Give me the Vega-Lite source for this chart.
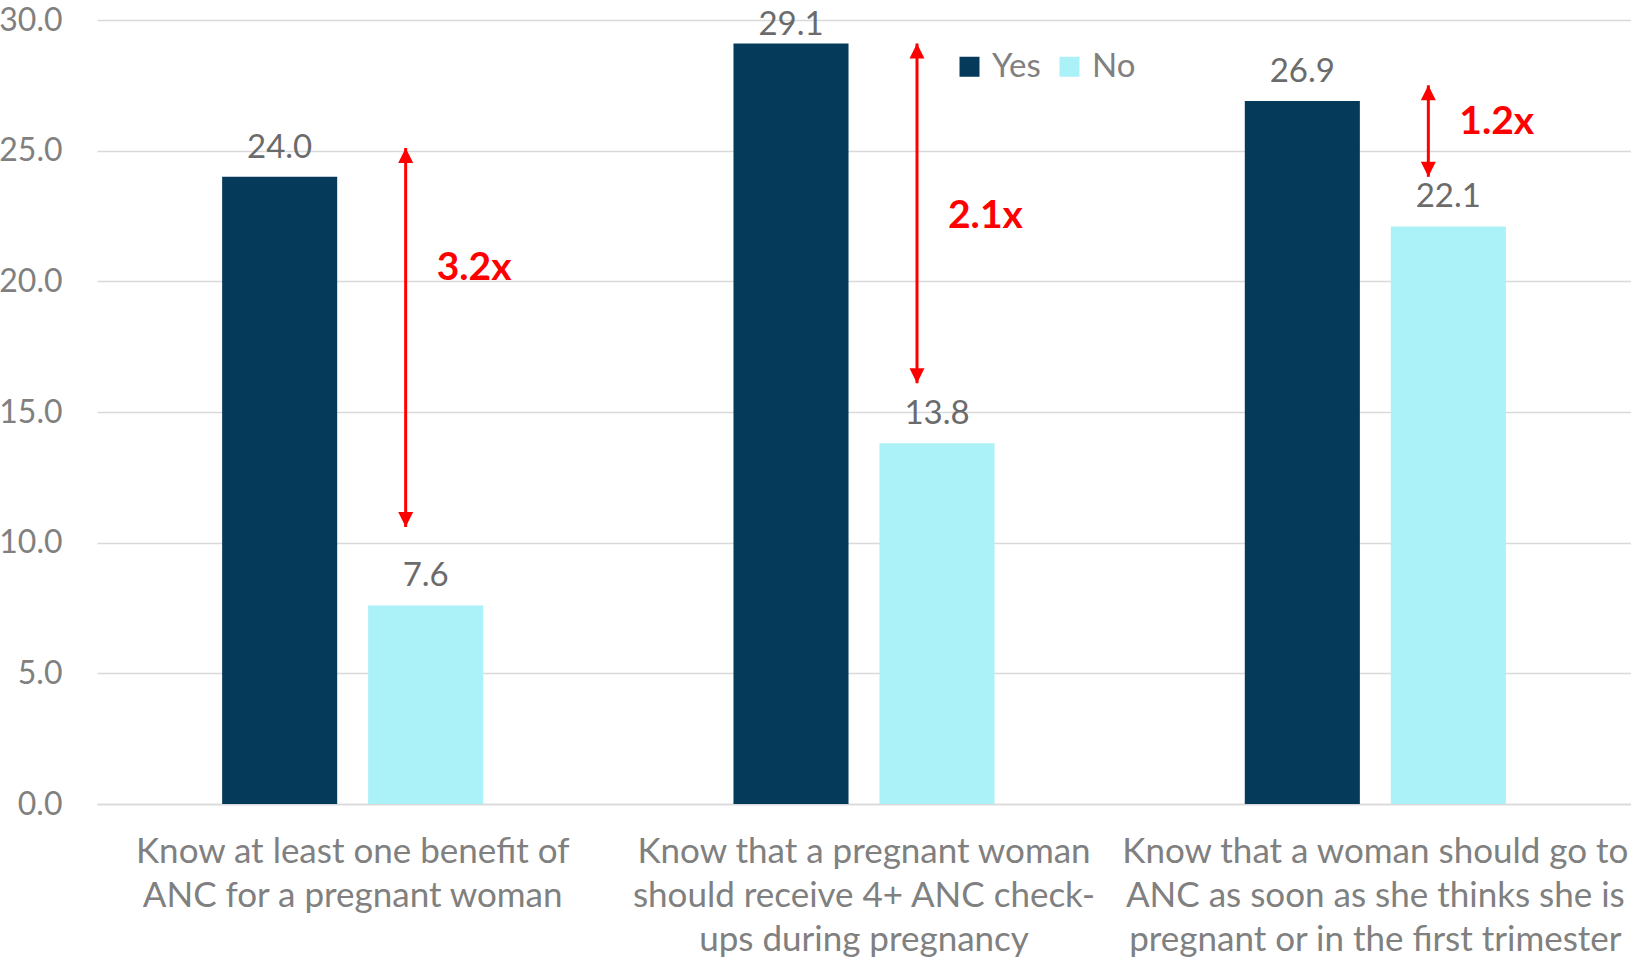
{
  "$schema": "https://vega.github.io/schema/vega-lite/v6.json",
  "width": 1534,
  "height": 784,
  "autosize": {"type": "none"},
  "padding": {"left": 97, "top": 20, "right": 0, "bottom": 154},
  "background": "white",
  "config": {"view": {"stroke": null}, "font": "Lato"},
  "datasets": {
    "bars": [
      {"category": "Know at least one benefit of|ANC for a pregnant woman", "group": "Yes", "value": 24.0},
      {"category": "Know at least one benefit of|ANC for a pregnant woman", "group": "No", "value": 7.6},
      {"category": "Know that a pregnant woman|should receive 4+ ANC check-|ups during pregnancy", "group": "Yes", "value": 29.1},
      {"category": "Know that a pregnant woman|should receive 4+ ANC check-|ups during pregnancy", "group": "No", "value": 13.8},
      {"category": "Know that a woman should go to|ANC as soon as she thinks she is|pregnant or in the first trimester", "group": "Yes", "value": 26.9},
      {"category": "Know that a woman should go to|ANC as soon as she thinks she is|pregnant or in the first trimester", "group": "No", "value": 22.1}
    ],
    "arrows": [
      {"category": "Know at least one benefit of|ANC for a pregnant woman", "top": 25.1, "bottom": 10.6, "ratio": "3.2x", "labelY": 20.5},
      {"category": "Know that a pregnant woman|should receive 4+ ANC check-|ups during pregnancy", "top": 29.1, "bottom": 16.1, "ratio": "2.1x", "labelY": 22.5},
      {"category": "Know that a woman should go to|ANC as soon as she thinks she is|pregnant or in the first trimester", "top": 27.5, "bottom": 24.0, "ratio": "1.2x", "labelY": 26.1}
    ]
  },
  "encoding": {
    "x": {
      "field": "category",
      "type": "nominal",
      "sort": null,
      "scale": {"paddingInner": 0, "paddingOuter": 0},
      "axis": {
        "title": null,
        "labelAngle": 0,
        "labelExpr": "split(datum.label, '|')",
        "labelFontSize": 35,
        "labelColor": "#808080",
        "labelLineHeight": 44,
        "labelPadding": 30,
        "labelLimit": 700,
        "labelOverlap": false,
        "labelBound": false,
        "ticks": false,
        "domain": true,
        "domainColor": "#d9d9d9",
        "domainWidth": 1.5
      }
    }
  },
  "layer": [
    {
      "data": {"name": "bars"},
      "mark": {"type": "bar"},
      "encoding": {
        "xOffset": {
          "field": "group",
          "type": "nominal",
          "sort": ["Yes", "No"],
          "scale": {"domain": ["Yes", "No"], "paddingInner": 0.212, "paddingOuter": 0.857}
        },
        "y": {
          "field": "value",
          "type": "quantitative",
          "scale": {"domain": [0, 30]},
          "axis": {
            "title": null,
            "values": [0, 5, 10, 15, 20, 25, 30],
            "format": ".1f",
            "labelFontSize": 32,
            "labelColor": "#808080",
            "labelPadding": 35,
            "ticks": false,
            "tickSize": 0,
            "domain": false,
            "grid": true,
            "gridColor": "#d9d9d9",
            "gridWidth": 1.5
          }
        },
        "color": {
          "field": "group",
          "type": "nominal",
          "scale": {"domain": ["Yes", "No"], "range": ["#063a5b", "#aaf1f8"]},
          "legend": {
            "title": null,
            "orient": "none",
            "legendX": 856,
            "legendY": 30,
            "direction": "horizontal",
            "symbolType": "square",
            "symbolSize": 400,
            "symbolStrokeWidth": 0,
            "labelFontSize": 33,
            "labelColor": "#808080",
            "labelOffset": 6,
            "columnPadding": 12,
            "padding": 0
          }
        }
      }
    },
    {
      "data": {"name": "bars"},
      "transform": [{"calculate": "min(datum.value, 28.7)", "as": "labelPos"}],
      "mark": {"type": "text", "fontSize": 33, "color": "#6b6b6b", "baseline": "alphabetic", "dy": -19},
      "encoding": {
        "xOffset": {"field": "group", "type": "nominal", "sort": ["Yes", "No"]},
        "y": {"field": "labelPos", "type": "quantitative"},
        "text": {"field": "value", "type": "quantitative", "format": ".1f"}
      }
    },
    {
      "data": {"name": "arrows"},
      "mark": {"type": "rule", "color": "#ff0000", "strokeWidth": 3, "xOffset": 53},
      "encoding": {
        "y": {"field": "top", "type": "quantitative"},
        "y2": {"field": "bottom"}
      }
    },
    {
      "data": {"name": "arrows"},
      "mark": {"type": "point", "filled": true, "opacity": 1, "strokeWidth": 0, "color": "#ff0000", "size": 225, "shape": "M0,0L1,2L-1,2Z", "xOffset": 53},
      "encoding": {
        "y": {"field": "top", "type": "quantitative"}
      }
    },
    {
      "data": {"name": "arrows"},
      "mark": {"type": "point", "filled": true, "opacity": 1, "strokeWidth": 0, "color": "#ff0000", "size": 225, "shape": "M0,0L1,-2L-1,-2Z", "xOffset": 53},
      "encoding": {
        "y": {"field": "bottom", "type": "quantitative"}
      }
    },
    {
      "data": {"name": "arrows"},
      "mark": {"type": "text", "color": "#ff0000", "fontSize": 39, "fontWeight": "bold", "align": "left", "baseline": "middle", "xOffset": 84},
      "encoding": {
        "y": {"field": "labelY", "type": "quantitative"},
        "text": {"field": "ratio"}
      }
    }
  ]
}
